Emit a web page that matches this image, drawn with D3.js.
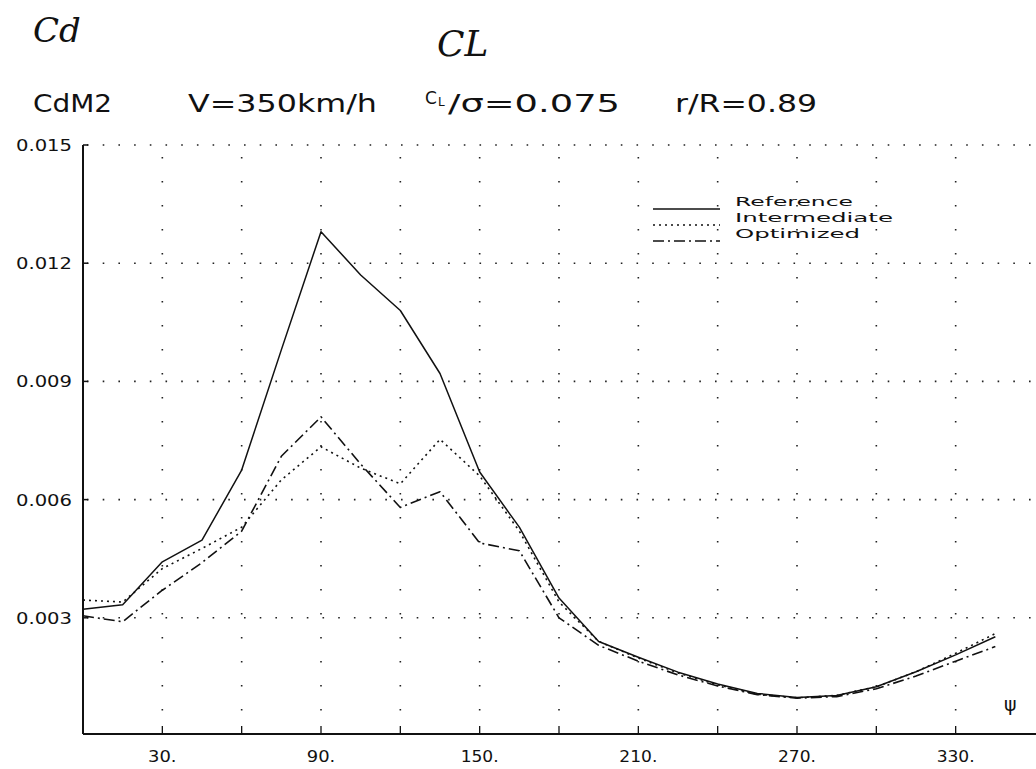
<!DOCTYPE html>
<html>
<head>
<meta charset="utf-8">
<script src="https://cdn.jsdelivr.net/npm/d3@7"></script>
<style>
html,body{margin:0;padding:0;background:#fff;}
svg{display:block;}
text{fill:#111;}
</style>
</head>
<body>
<svg id="chart" width="1036" height="769"></svg>
<script>
// ---- data ----
const psi = [0,15,30,45,60,75,90,105,120,135,150,165,180,195,210,225,240,255,270,285,300,315,330,345];
const reference    = [0.00322,0.00333,0.00442,0.00497,0.00675,0.0098,0.0128,0.0117,0.0108,0.0092,0.0067,0.0053,0.0035,0.0024,0.0020,0.00162,0.00132,0.00108,0.00098,0.00103,0.00125,0.00163,0.00206,0.00252];
const intermediate = [0.00345,0.0034,0.00425,0.00476,0.0053,0.0065,0.00734,0.0068,0.0064,0.00753,0.0066,0.0052,0.0034,0.0024,0.00198,0.0016,0.0013,0.00106,0.00097,0.00103,0.00125,0.00163,0.0021,0.0026];
const optimized    = [0.00305,0.0029,0.0037,0.0044,0.0052,0.0071,0.0081,0.0069,0.0058,0.0062,0.0049,0.0047,0.0030,0.0023,0.0019,0.00155,0.00127,0.00105,0.00096,0.0010,0.0012,0.00152,0.0019,0.00227];
const seriesNames = ["Reference","Intermediate","Optimized"];
const yTicks = [0.003,0.006,0.009,0.012,0.015];
const yTickLabels = ["0.003","0.006","0.009","0.012","0.015"];
const xTicks = [30,60,90,120,150,180,210,240,270,300,330];
const xLabelTicks = [30,90,150,210,270,330];
const xTickLabels = ["30.","90.","150.","210.","270.","330."];

// ---- layout ----
const svg = d3.select("#chart");
const x = d3.scaleLinear().domain([0,360]).range([83,1035]);
const y = d3.scaleLinear().domain([0,0.015]).range([736,145]);
const axisY = 734;
const font = "'DejaVu Sans', sans-serif";

// handwritten annotations
svg.append("text").attr("x",33).attr("y",42).attr("font-family","'DejaVu Serif', serif")
  .attr("font-style","italic").attr("font-size",34).attr("font-weight",300).text("Cd");
svg.append("text").attr("x",437).attr("y",56).attr("font-family","'DejaVu Serif', serif")
  .attr("font-style","italic").attr("font-size",36).attr("font-weight",300).text("CL");

// title line
const tfs = 24;
function plotText(t, x0, yb, w, fs, anchor){
  const el = svg.append("text").attr("x",x0).attr("y",yb).attr("font-family",font)
    .attr("font-size",fs).text(t);
  if (w) el.attr("textLength",w).attr("lengthAdjust","spacingAndGlyphs");
  if (anchor) el.attr("text-anchor",anchor);
  return el;
}
plotText("CdM2",33,112,79,tfs);
plotText("V=350km/h",188,112,189,tfs);
svg.append("text").attr("x",425).attr("y",104).attr("font-family",font).attr("font-size",17).text("C");
svg.append("text").attr("x",438).attr("y",106).attr("font-family",font).attr("font-size",12).text("L");
plotText("/\u03C3=0.075",448,112,172,tfs);
plotText("r/R=0.89",675,112,142,tfs);

// grid
const g = svg.append("g");
g.selectAll("line.hg").data(yTicks).join("line")
  .attr("x1",x(0)+4).attr("x2",1032)
  .attr("y1",d=>y(d)).attr("y2",d=>y(d))
  .attr("stroke","#222").attr("stroke-width",1.6).attr("stroke-dasharray","1.6,14.1");
g.selectAll("line.vg").data(xTicks).join("line")
  .attr("x1",d=>x(d)).attr("x2",d=>x(d))
  .attr("y1",y(0.015)+12).attr("y2",axisY)
  .attr("stroke","#222").attr("stroke-width",1.6).attr("stroke-dasharray","1.6,22.4");

// axes
svg.append("line").attr("x1",x(0)).attr("x2",x(0)).attr("y1",y(0.015)).attr("y2",axisY)
  .attr("stroke","#111").attr("stroke-width",2);
svg.append("line").attr("x1",x(0)).attr("x2",1036).attr("y1",axisY).attr("y2",axisY)
  .attr("stroke","#111").attr("stroke-width",2);
svg.selectAll("line.yt").data(yTicks).join("line")
  .attr("x1",x(0)).attr("x2",x(0)+5).attr("y1",d=>y(d)).attr("y2",d=>y(d))
  .attr("stroke","#111").attr("stroke-width",1.5);
svg.selectAll("line.xt").data(xTicks).join("line")
  .attr("x1",d=>x(d)).attr("x2",d=>x(d)).attr("y1",axisY).attr("y2",axisY-8)
  .attr("stroke","#111").attr("stroke-width",1.3);

// tick labels
yTicks.forEach((t,i)=>{
  plotText(yTickLabels[i],72,y(t)+6,56,16,"end");
});
xLabelTicks.forEach((t,i)=>{
  const s = xTickLabels[i];
  plotText(s,x(t),762,s.length*9.5,16,"middle");
});
plotText("\u03C8",1004,711,null,19);

// curves
const line = d3.line().x((d,i)=>x(psi[i])).y(d=>y(d));
const styles = [
  {data:reference, dash:null, w:1.5},
  {data:intermediate, dash:"2,4", w:1.6},
  {data:optimized, dash:"11,4,2,4", w:1.6}
];
styles.forEach(s=>{
  const p = svg.append("path").datum(s.data).attr("d",line)
    .attr("fill","none").attr("stroke","#111").attr("stroke-width",s.w)
    .attr("stroke-linejoin","round");
  if (s.dash) p.attr("stroke-dasharray",s.dash);
});

// legend
const legY = [209,225,241];
const legW = [118,158,125];
seriesNames.forEach((n,i)=>{
  const l = svg.append("line").attr("x1",653).attr("x2",720).attr("y1",legY[i]).attr("y2",legY[i])
    .attr("stroke","#111").attr("stroke-width",1.6);
  if (styles[i].dash) l.attr("stroke-dasharray",styles[i].dash);
  plotText(n,735,legY[i]-3,legW[i],13);
});
</script>
</body>
</html>
